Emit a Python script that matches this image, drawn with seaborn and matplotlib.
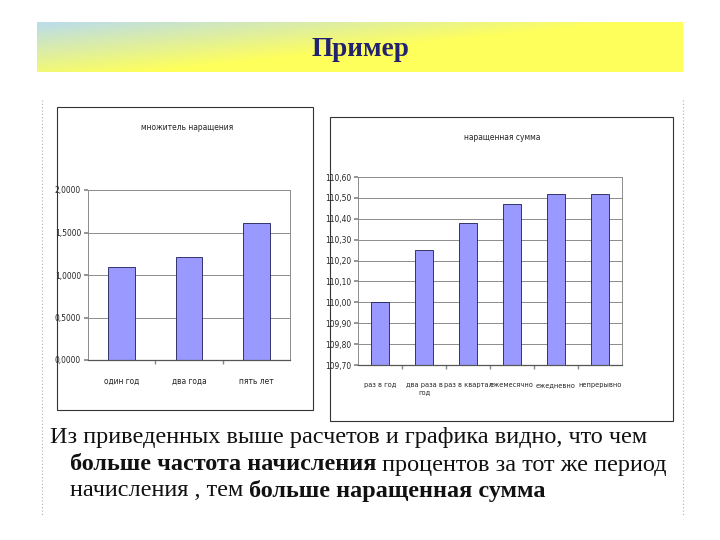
import numpy as np
import matplotlib
matplotlib.use("Agg")
import matplotlib.pyplot as plt
import seaborn as sns
from matplotlib.patches import Rectangle
from matplotlib.lines import Line2D
from matplotlib.ticker import FuncFormatter, FixedLocator

# data
terms = ["один год", "два года", "пять лет"]
multiplier = [1.10, 1.21, 1.61]

freq = ["раз в год", "два раза в\nгод", "раз в квартал", "ежемесячно", "ежедневно", "непрерывно"]
amount = [110.00, 110.25, 110.38, 110.47, 110.52, 110.52]

sns.set_theme(style="white")
plt.rcParams['font.family'] = ['DejaVu Sans']
plt.rcParams['font.stretch'] = 'condensed'

W, H = 720, 540
fig = plt.figure(figsize=(7.2, 5.4), dpi=100)
fig.patch.set_facecolor("white")


def fr(x0, y0, x1, y1):
    # pixel box (top-left origin) -> figure fraction [l, b, w, h]
    return [x0 / W, 1 - y1 / H, (x1 - x0) / W, (y1 - y0) / H]


# header band with gradient
hax = fig.add_axes(fr(37, 22, 683, 72))
gx = np.linspace(0, 1, 300)[None, :]
gy = np.linspace(0, 1, 60)[:, None]
t = np.clip(gx * 1.15 + gy * 0.85 - 0.05, 0, 1)
blue = np.array([0.74, 0.87, 0.90])
yellow = np.array([1.0, 1.0, 0.36])
img = blue[None, None, :] * (1 - t[..., None]) + yellow[None, None, :] * t[..., None]
hax.imshow(img, aspect="auto", extent=[0, 1, 0, 1], origin="upper")
hax.set_axis_off()
fig.text(360 / W, 1 - 49 / H, "Пример", ha="center", va="center", fontsize=19.6,
         fontweight="bold", family="Liberation Serif", stretch="normal", color="#22226e")

# dotted side lines
for xx in (42, 683):
    fig.add_artist(Line2D([xx / W, xx / W], [1 - 100 / H, 1 - 515 / H], color="#b0b0b0",
                          lw=0.8, ls=(0, (1, 2))))

# chart frames
fig.add_artist(Rectangle((57 / W, 1 - 410 / H), (313 - 57) / W, (410 - 107) / H,
                         fill=False, ec="#333333", lw=0.8))
fig.add_artist(Rectangle((330 / W, 1 - 421 / H), (673 - 330) / W, (421 - 117) / H,
                         fill=False, ec="#333333", lw=0.8))

bar_color = "#9999ff"
edge = "#1c1c55"


def style_axes(ax, nb):
    ax.grid(axis="y", color="#8c8c8c", lw=0.7)
    ax.set_axisbelow(True)
    for s in ("top", "right", "left"):
        ax.spines[s].set_color("#8c8c8c")
        ax.spines[s].set_linewidth(0.7)
    ax.spines["bottom"].set_color("#555555")
    ax.spines["bottom"].set_linewidth(0.9)
    ax.set_xlim(-0.5, nb - 0.5)
    ax.set_xlabel("")
    ax.set_ylabel("")
    ax.xaxis.set_minor_locator(FixedLocator([i + 0.5 for i in range(nb - 1)]))
    ax.tick_params(axis="x", which="major", length=0, labelsize=6, pad=12)
    ax.tick_params(axis="x", which="minor", length=3, color="#888888", direction="out", bottom=True)
    ax.tick_params(axis="y", length=3, color="#888888", labelsize=6, left=True, pad=2)


# left chart
ax1 = fig.add_axes(fr(88, 190, 290, 360))
sns.barplot(x=terms, y=multiplier, ax=ax1, color=bar_color, width=0.4,
            edgecolor=edge, linewidth=0.6, saturation=1)
ax1.set_ylim(0, 2.0)
ax1.set_yticks([0, 0.5, 1.0, 1.5, 2.0])
ax1.yaxis.set_major_formatter(FuncFormatter(lambda v, p: f"{v:.4f}".replace(".", ",")))
style_axes(ax1, len(terms))
fig.text(187 / W, 1 - 127 / H, "множитель наращения", ha="center", va="center", fontsize=6)

# right chart
ax2 = fig.add_axes(fr(358, 177, 622, 365))
sns.barplot(x=freq, y=amount, ax=ax2, color=bar_color, width=0.4,
            edgecolor=edge, linewidth=0.6, saturation=1)
ax2.set_ylim(109.70, 110.60)
ax2.set_yticks(np.arange(109.70, 110.601, 0.10))
ax2.yaxis.set_major_formatter(FuncFormatter(lambda v, p: f"{v:.2f}".replace(".", ",")))
style_axes(ax2, len(freq))
ax2.tick_params(axis="x", which="major", labelsize=5.3)
for lab in ax2.get_xticklabels():
    lab.set_va("top")
fig.text(502 / W, 1 - 137 / H, "наращенная сумма", ha="center", va="center", fontsize=6)

# bottom text with bold fragments
renderer = fig.canvas.get_renderer()
FS = 17.5


def put_line(x, y, pieces):
    for txt, bold in pieces:
        tt = fig.text(x / W, 1 - y / H, txt, ha="left", va="center", fontsize=FS,
                      family="Liberation Serif", stretch="normal",
                      fontweight="bold" if bold else "normal", color="#111111")
        x += tt.get_window_extent(renderer).width


put_line(50, 438, [("Из приведенных выше расчетов и графика видно, что чем", False)])
put_line(70, 465, [("больше частота начисления", True), (" процентов за тот же период", False)])
put_line(70, 491, [("начисления , тем ", False), ("больше наращенная сумма", True)])

fig.savefig("out.png", dpi=100)
